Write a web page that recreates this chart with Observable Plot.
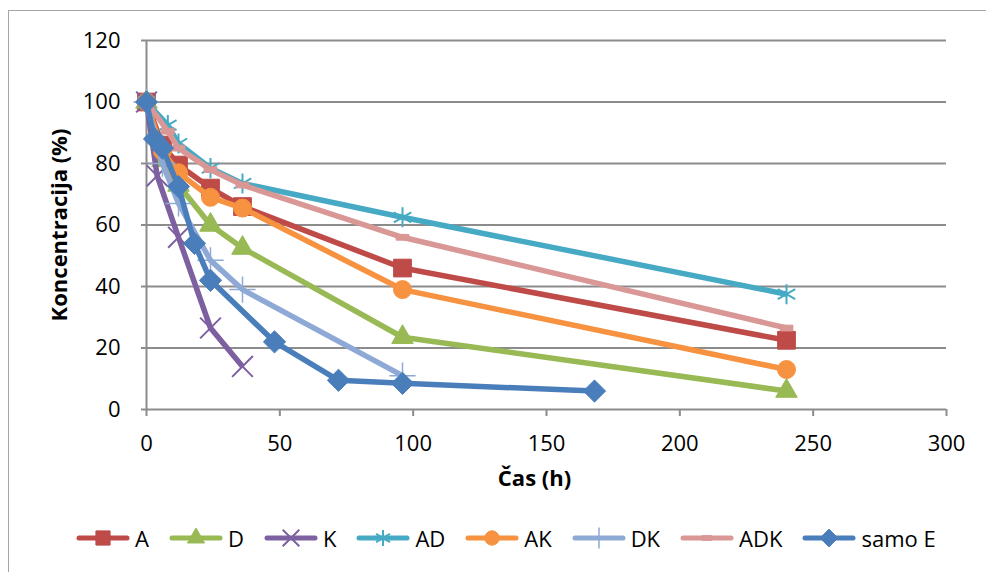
<!DOCTYPE html>
<html>
<head>
<meta charset="utf-8">
<script src="https://cdn.jsdelivr.net/npm/d3@7"></script>
<script src="https://cdn.jsdelivr.net/npm/@observablehq/plot@0.6"></script>
<style>
  html, body { margin: 0; padding: 0; background: #fff; overflow: hidden; }
  #page { position: relative; width: 986px; height: 572px; overflow: hidden; font-family: "Open Sans", sans-serif; }
  #frame { position: absolute; left: 8px; top: 10px; width: 1000px; height: 600px; border: 1px solid #a6a6a6; }
  #chart { position: absolute; left: 0; top: 0; }
  #legend { position: absolute; left: 76px; top: 523px; display: flex; gap: 20px; align-items: center; font-size: 22px; color: #000; }
  .item { display: flex; align-items: center; gap: 5px; }
  .item svg { display: block; }
</style>
</head>
<body>
<div id="page">
  <div id="frame"></div>
  <div id="chart"></div>
  <div id="legend"></div>
</div>
<script>
// Concentration (%) over time (h) for each treatment
const hoursA = [0, 6, 12, 24, 36, 96, 240];
const valuesA = [100, 86, 79.5, 72, 66, 46, 22.5];

const hoursD = [0, 6, 12, 24, 36, 96, 240];
const valuesD = [100, 81, 73, 60, 52.5, 23.5, 6];

const hoursK = [0, 4, 12, 24, 36];
const valuesK = [100, 76, 56, 26.5, 14];

const hoursAD = [0, 8, 12, 24, 36, 96, 240];
const valuesAD = [100, 92.5, 86.5, 78.5, 73.5, 62.5, 37.5];

const hoursAK = [0, 6, 12, 24, 36, 96, 240];
const valuesAK = [100, 84, 77, 69, 65.5, 39, 13];

const hoursDK = [0, 6, 12, 24, 36, 96];
const valuesDK = [100, 80, 67, 48.5, 39, 11];

const hoursADK = [0, 8, 12, 24, 36, 96, 240];
const valuesADK = [100, 90.5, 85, 78, 73, 56, 26.5];

const hoursE = [0, 3, 6, 12, 18, 24, 48, 72, 96, 168];
const valuesE = [100, 88, 85, 72.5, 54, 42, 22, 9.5, 8.5, 6];

const seriesNames = ["A", "D", "K", "AD", "AK", "DK", "ADK", "samo E"];
const seriesHours = [hoursA, hoursD, hoursK, hoursAD, hoursAK, hoursDK, hoursADK, hoursE];
const seriesValues = [valuesA, valuesD, valuesK, valuesAD, valuesAK, valuesDK, valuesADK, valuesE];

const xTicks = [0, 50, 100, 150, 200, 250, 300];
const yTicks = [0, 20, 40, 60, 80, 100, 120];
const xTitle = "Čas (h)";
const yTitle = "Koncentracija (%)";

// A short flat bar used as the ADK marker
const dashSymbol = {
  draw(context, size) {
    const w = Math.sqrt(size) * 0.9;
    const h = w * 0.45;
    context.rect(-w / 2, -h / 2, w, h);
  }
};

const seriesStyle = {
  "A":      {color: "#BE4B48", symbol: "square",   d3sym: d3.symbolSquare,   r: 10,  filled: true},
  "D":      {color: "#98B954", symbol: "triangle", d3sym: d3.symbolTriangle, r: 8,   filled: true},
  "K":      {color: "#7D60A0", symbol: "times",    d3sym: d3.symbolTimes,    r: 9.5, filled: false, sw: 2},
  "AD":     {color: "#46AAC5", symbol: "asterisk", d3sym: d3.symbolAsterisk, r: 9.5, filled: false, sw: 2},
  "AK":     {color: "#F69240", symbol: "circle",   d3sym: d3.symbolCircle,   r: 9,   filled: true},
  "DK":     {color: "#8EA9D5", symbol: "plus",     d3sym: d3.symbolPlus,     r: 8.5, filled: false, sw: 1.5},
  "ADK":    {color: "#D99795", symbol: dashSymbol, d3sym: dashSymbol,        r: 8,   filled: true},
  "samo E": {color: "#4A7EBB", symbol: "diamond2", d3sym: d3.symbolDiamond2, r: 10,  filled: true}
};

const rows = seriesNames.map((name, i) =>
  seriesHours[i].map((h, j) => ({series: name, hours: h, value: seriesValues[i][j]}))
);

const seriesMarks = rows.flatMap((data, i) => {
  const st = seriesStyle[seriesNames[i]];
  return [
    Plot.line(data, {x: "hours", y: "value", stroke: st.color, strokeWidth: 5.5, strokeLinejoin: "round", strokeLinecap: "butt"}),
    Plot.dot(data, {
      x: "hours", y: "value", symbol: st.symbol, r: st.r,
      fill: st.filled ? st.color : "none",
      stroke: st.color,
      strokeWidth: st.filled ? 1 : st.sw
    })
  ];
});

const chart = Plot.plot({
  width: 986,
  height: 500,
  marginLeft: 146,
  marginRight: 40,
  marginTop: 40,
  marginBottom: 91,
  style: {fontFamily: "Open Sans", fontSize: "22px", color: "#000", background: "transparent", overflow: "visible"},
  x: {domain: [0, 300]},
  y: {domain: [0, 120]},
  marks: [
    Plot.ruleY(yTicks, {stroke: "#8c8c8c", strokeWidth: 2}),
    Plot.ruleX([0], {y1: 0, y2: 120, stroke: "#8c8c8c", strokeWidth: 2}),
    Plot.axisY({ticks: yTicks, tickSize: 5, tickPadding: 21, stroke: "#8c8c8c", strokeWidth: 2, fill: "#000", label: null}),
    Plot.axisX({ticks: xTicks, tickSize: 7, tickPadding: 19, stroke: "#8c8c8c", strokeWidth: 2, fill: "#000", label: null}),
    ...seriesMarks,
    Plot.text([yTitle], {text: d => d, frameAnchor: "left", dx: -87, rotate: -90, fontWeight: "bold", fontSize: 22, textAnchor: "middle", lineAnchor: "middle", fill: "#000"}),
    Plot.text([xTitle], {text: d => d, frameAnchor: "bottom", dx: -12, dy: 69, fontWeight: "bold", fontSize: 22, textAnchor: "middle", lineAnchor: "middle", fill: "#000"})
  ]
});
document.getElementById("chart").appendChild(chart);

// Legend: line swatch with the series marker, then its name
const legend = d3.select("#legend");
seriesNames.forEach(name => {
  const st = seriesStyle[name];
  const item = legend.append("div").attr("class", "item");
  const svg = item.append("svg").attr("width", 54).attr("height", 24);
  svg.append("line")
    .attr("x1", 3).attr("x2", 51).attr("y1", 12).attr("y2", 12)
    .attr("stroke", st.color).attr("stroke-width", 5).attr("stroke-linecap", "round");
  const rr = st.r * 0.8;
  svg.append("path")
    .attr("transform", "translate(27,12)")
    .attr("d", d3.symbol(st.d3sym, Math.PI * rr * rr)())
    .attr("fill", st.filled ? st.color : "none")
    .attr("stroke", st.color)
    .attr("stroke-width", st.filled ? 1 : st.sw);
  item.append("span").text(name);
});
</script>
</body>
</html>
